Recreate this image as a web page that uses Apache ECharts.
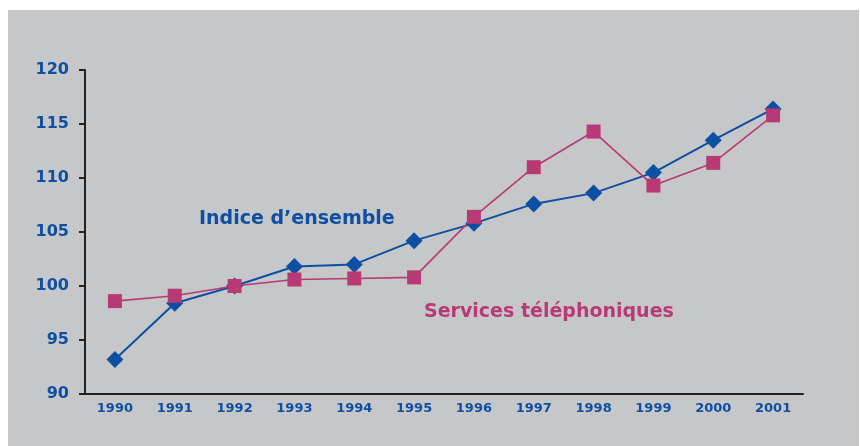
<!DOCTYPE html>
<html>
<head>
<meta charset="utf-8">
<script src="https://cdn.jsdelivr.net/npm/echarts@6/dist/echarts.min.js"></script>
<style>
  html, body { margin: 0; padding: 0; background: #fff; }
  #bg { position: absolute; left: 8px; top: 10px; width: 851px; height: 436px; background: #c6c7c9; }
  #main { position: absolute; left: 0; top: 0; width: 860px; height: 446px; }
</style>
</head>
<body>
<div id="bg"></div>
<div id="main"></div>
<script>
// années
var years = ['1990', '1991', '1992', '1993', '1994', '1995', '1996', '1997', '1998', '1999', '2000', '2001']
// indice d'ensemble
var indiceEnsemble = [93.2, 98.4, 100.0, 101.8, 102.0, 104.2, 105.8, 107.6, 108.6, 110.5, 113.5, 116.4]
// services téléphoniques
var servicesTel = [98.6, 99.1, 100.0, 100.6, 100.7, 100.8, 106.4, 111.0, 114.3, 109.3, 111.4, 115.8]

var blue = '#0d4fa3'
var pink = '#b83a74'
var font = 'DejaVu Sans, Verdana, sans-serif'

var myChart = echarts.init(document.getElementById('main'))
var options = {
  backgroundColor: 'transparent',
  animation: false,
  grid: { left: 85, right: 57, top: 70, bottom: 52 },
  xAxis: {
    type: 'category',
    boundaryGap: true,
    data: years,
    axisLine: { lineStyle: { color: '#222', width: 2 } },
    axisTick: { show: false },
    axisLabel: { color: blue, fontWeight: 'bold', fontSize: 13, fontFamily: font, margin: 8 }
  },
  yAxis: {
    type: 'value',
    min: 90,
    max: 120,
    interval: 5,
    splitLine: { show: false },
    axisLine: { show: true, lineStyle: { color: '#222', width: 2 } },
    axisTick: { show: true, length: 6, lineStyle: { color: '#222', width: 2 } },
    axisLabel: { color: blue, fontWeight: 'bold', fontSize: 16, fontFamily: font, margin: 16 }
  },
  graphic: [
    {
      type: 'text', left: 199, top: 210,
      style: { text: 'Indice d\u2019ensemble', fill: blue, font: 'bold 19px ' + font }
    },
    {
      type: 'text', left: 424, top: 303,
      style: { text: 'Services téléphoniques', fill: pink, font: 'bold 19px ' + font }
    }
  ],
  series: [
    {
      name: 'Indice d\u2019ensemble',
      type: 'line',
      data: indiceEnsemble,
      symbol: 'diamond',
      symbolSize: [17, 17],
      itemStyle: { color: blue },
      lineStyle: { color: blue, width: 2 }
    },
    {
      name: 'Services téléphoniques',
      type: 'line',
      data: servicesTel,
      symbol: 'rect',
      symbolSize: 14,
      itemStyle: { color: pink },
      lineStyle: { color: pink, width: 1.6 }
    }
  ]
}
myChart.setOption(options)
</script>
</body>
</html>
